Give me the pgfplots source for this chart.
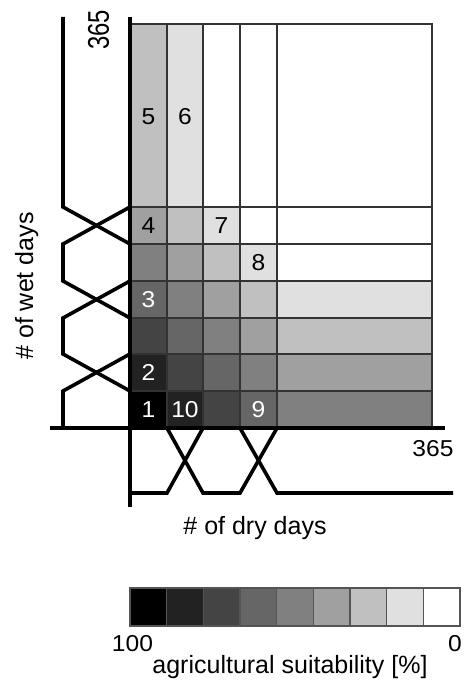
\documentclass[border=0pt]{standalone}
\usepackage{pgfplots}
\pgfplotsset{compat=1.18}
\usepackage{fontspec}
\setmainfont[FakeStretch=1.0]{Liberation Sans}
\newfontfamily\numfont[FakeStretch=1.07]{Liberation Sans}
\newcommand\nf{\numfont\fontsize{23}{27}\selectfont}
\definecolor{lv0}{gray}{0}
\definecolor{lv1}{gray}{0.133}
\definecolor{lv2}{gray}{0.267}
\definecolor{lv3}{gray}{0.4}
\definecolor{lv4}{gray}{0.502}
\definecolor{lv5}{gray}{0.627}
\definecolor{lv6}{gray}{0.753}
\definecolor{lv7}{gray}{0.878}
\definecolor{lv8}{gray}{1}
\definecolor{gridc}{HTML}{333333}
\definecolor{barc}{HTML}{555555}
% grid cell: x1 y1 x2 y2 level
\newcommand\cell[5]{\addplot[draw=gridc, line width=1.1pt, fill=lv#5] coordinates {(#1,#2) (#3,#2) (#3,#4) (#1,#4)} --cycle;}
\newcommand\bcell[3]{\addplot[draw=barc, line width=1.4pt, fill=lv#3] coordinates {(#1,588) (#2,588) (#2,626) (#1,626)} --cycle;}
\begin{document}
\begin{tikzpicture}[every node/.style={font=\fontsize{25}{29}\selectfont, inner sep=0pt}]
\begin{axis}[
  width=465pt, height=685pt, scale only axis,
  xmin=0, xmax=465, ymin=0, ymax=685, y dir=reverse,
  hide axis, clip=false]
\addplot[draw=none] coordinates {(0,0) (465,685)};
% columns: 130 167 203 240 277 432 ; rows: 428 391 354 318 281 244 207 24
% row 0
\cell{130}{391}{167}{428}{0}
\cell{167}{391}{203}{428}{1}
\cell{203}{391}{240}{428}{2}
\cell{240}{391}{277}{428}{3}
\cell{277}{391}{432}{428}{4}
% row 1
\cell{130}{354}{167}{391}{1}
\cell{167}{354}{203}{391}{2}
\cell{203}{354}{240}{391}{3}
\cell{240}{354}{277}{391}{4}
\cell{277}{354}{432}{391}{5}
% row 2
\cell{130}{318}{167}{354}{2}
\cell{167}{318}{203}{354}{3}
\cell{203}{318}{240}{354}{4}
\cell{240}{318}{277}{354}{5}
\cell{277}{318}{432}{354}{6}
% row 3
\cell{130}{281}{167}{318}{3}
\cell{167}{281}{203}{318}{4}
\cell{203}{281}{240}{318}{5}
\cell{240}{281}{277}{318}{6}
\cell{277}{281}{432}{318}{7}
% row 4
\cell{130}{244}{167}{281}{4}
\cell{167}{244}{203}{281}{5}
\cell{203}{244}{240}{281}{6}
\cell{240}{244}{277}{281}{7}
\cell{277}{244}{432}{281}{8}
% row 5
\cell{130}{207}{167}{244}{5}
\cell{167}{207}{203}{244}{6}
\cell{203}{207}{240}{244}{7}
\cell{240}{207}{277}{244}{8}
\cell{277}{207}{432}{244}{8}
% row 6 (top)
\cell{130}{24}{167}{207}{6}
\cell{167}{24}{203}{207}{7}
\cell{203}{24}{240}{207}{8}
\cell{240}{24}{277}{207}{8}
\cell{277}{24}{432}{207}{8}
% membership functions, wet days (left)
\addplot[line width=3.6pt, line join=miter] coordinates {(63,428) (63,391) (130,354)};
\addplot[line width=3.6pt, line join=miter] coordinates {(130,391) (63,354) (63,318) (130,281)};
\addplot[line width=3.6pt, line join=miter] coordinates {(130,318) (63,281) (63,244) (130,207)};
\addplot[line width=3.6pt, line join=miter] coordinates {(130,244) (63,207) (63,17)};
% membership functions, dry days (bottom)
\addplot[line width=3.6pt, line join=miter] coordinates {(130,493) (167,493) (203,428)};
\addplot[line width=3.6pt, line join=miter] coordinates {(167,428) (203,493) (240,493) (277,428)};
\addplot[line width=3.6pt, line join=miter] coordinates {(240,428) (277,493) (453,493)};
% axes
\addplot[line width=4pt] coordinates {(130,17) (130,507)};
\addplot[line width=4pt] coordinates {(50,428) (445,428)};
% colour bar
\bcell{130}{166.7}{0}
\bcell{166.7}{203.3}{1}
\bcell{203.3}{240}{2}
\bcell{240}{276.7}{3}
\bcell{276.7}{313.3}{4}
\bcell{313.3}{350}{5}
\bcell{350}{386.7}{6}
\bcell{386.7}{423.3}{7}
\bcell{423.3}{460}{8}
% cell numbers
\node[text=white, font=\nf] at (axis cs:148.5,409.5) {1};
\node[text=white, font=\nf] at (axis cs:185,409.5) {10};
\node[text=white, font=\nf] at (axis cs:258.5,409.5) {9};
\node[text=white, font=\nf] at (axis cs:148.5,372.5) {2};
\node[text=white, font=\nf] at (axis cs:148.5,299.5) {3};
\node[text=black, font=\nf] at (axis cs:258.5,262.5) {8};
\node[text=black, font=\nf] at (axis cs:148.5,225.5) {4};
\node[text=black, font=\nf] at (axis cs:221.5,225.5) {7};
\node[text=black, font=\nf] at (axis cs:148.5,116.5) {5};
\node[text=black, font=\nf] at (axis cs:185,116.5) {6};
% labels
\node[rotate=90, font=\nf] at (axis cs:98.5,30) {\scalebox{0.97}[1.3]{365}};
\node[font=\nf] at (axis cs:433,449) {365};
\node[anchor=base] at (axis cs:255,534) {\# of dry days};
\node[rotate=90, anchor=base] at (axis cs:33,286) {\# of wet days};
\node[anchor=base, font=\nf] at (axis cs:132.5,651) {100};
\node[anchor=base, font=\nf] at (axis cs:455,651) {0};
\node[anchor=base] at (axis cs:290,673) {agricultural suitability [\%]};
\end{axis}
\end{tikzpicture}
\end{document}
